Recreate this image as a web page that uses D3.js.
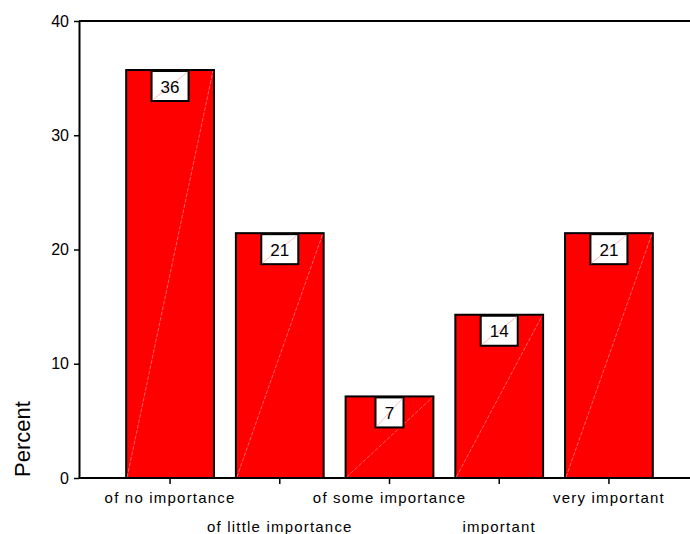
<!DOCTYPE html>
<html>
<head>
<meta charset="utf-8">
<script src="https://cdn.jsdelivr.net/npm/d3@7"></script>
<style>
  html, body { margin: 0; padding: 0; background: #fff; }
  svg { display: block; font-family: "Liberation Sans", Arial, sans-serif; }
</style>
</head>
<body>
<svg id="chart" width="690" height="534"></svg>
<script>
// Importance ratings, percent of respondents (n = 14)
const categories = ["of no importance", "of little importance", "of some importance", "important", "very important"];
const percents = [35.71, 21.43, 7.14, 14.29, 21.43];
const yTicks = [0, 10, 20, 30, 40];

const svg = d3.select("#chart");
const W = 690;

const x = d3.scaleBand()
  .domain(categories)
  .range([79, 700])
  .paddingInner(0.2)
  .paddingOuter(0.43);

const y = d3.scaleLinear().domain([0, 40]).range([478, 21]);

// bars
const bars = svg.append("g");
categories.forEach((c, i) => {
  const v = percents[i];
  const x0 = x(c), bw = x.bandwidth();
  const y0 = y(v), h = y(0) - y(v);
  bars.append("rect")
    .attr("x", x0).attr("y", y0).attr("width", bw).attr("height", h)
    .attr("fill", "#ff0000").attr("stroke", "#000").attr("stroke-width", 2);
  // faint diagonal shading line across the bar
  bars.append("line")
    .attr("x1", x0 + 1).attr("y1", y(0) - 1)
    .attr("x2", x0 + bw - 1).attr("y2", y0 + 1)
    .attr("stroke", "#ffc8c8").attr("stroke-width", 0.7)
    .attr("stroke-dasharray", "4,1.5").attr("opacity", 0.7);
});

// value labels in boxes at the top of each bar
const fmt = d3.format(".0f");
categories.forEach((c, i) => {
  const v = percents[i];
  const label = fmt(v);
  const cx = x(c) + x.bandwidth() / 2;
  const bw = label.length === 1 ? 28 : 37;
  const bh = 30;
  const top = y(v) + 1;
  const g = svg.append("g");
  g.append("rect")
    .attr("x", cx - bw / 2).attr("y", top).attr("width", bw).attr("height", bh)
    .attr("fill", "#fff").attr("stroke", "#000").attr("stroke-width", 2);
  g.append("line")
    .attr("x1", cx - bw / 2 + 1).attr("y1", top + bh - 1)
    .attr("x2", cx + bw / 2 - 1).attr("y2", top + 1)
    .attr("stroke", "#ff9c9c").attr("stroke-width", 0.7);
  g.append("text")
    .attr("x", cx).attr("y", top + 21.5)
    .attr("text-anchor", "middle")
    .attr("font-size", 17)
    .attr("fill", "#000")
    .text(label);
});

// frame: top line
svg.append("line")
  .attr("x1", 79).attr("x2", W).attr("y1", y(40)).attr("y2", y(40))
  .attr("stroke", "#000").attr("stroke-width", 2);

// y axis
const yAxis = svg.append("g")
  .attr("transform", "translate(79,0)")
  .call(d3.axisLeft(y).tickValues(yTicks).tickSize(5).tickSizeOuter(0).tickPadding(5).tickFormat(d3.format("d")));
yAxis.select(".domain").attr("stroke", "#000").attr("stroke-width", 2);
yAxis.selectAll(".tick line").attr("stroke", "#000").attr("stroke-width", 1.5);
yAxis.selectAll(".tick text")
  .attr("font-size", 16).attr("fill", "#000")
  .attr("font-family", "Liberation Sans, Arial, sans-serif");

// x axis
const xAxis = svg.append("g")
  .attr("transform", `translate(0,${y(0)})`)
  .call(d3.axisBottom(x).tickSize(6).tickSizeOuter(0).tickPadding(0));
xAxis.select(".domain").attr("d", `M79,0H${W}`).attr("stroke", "#000").attr("stroke-width", 2);
xAxis.selectAll(".tick line").attr("stroke", "#000").attr("stroke-width", 1.5);
xAxis.selectAll(".tick text")
  .attr("font-size", 15).attr("fill", "#000")
  .attr("font-family", "Liberation Sans, Arial, sans-serif")
  .style("letter-spacing", "1.2px")
  .attr("dy", null)
  .attr("y", (d, i) => i % 2 === 0 ? 25 : 54);

// y axis title
svg.append("text")
  .attr("transform", "translate(30,439) rotate(-90)")
  .attr("text-anchor", "middle")
  .attr("font-size", 22)
  .attr("fill", "#000")
  .text("Percent");
</script>
</body>
</html>
